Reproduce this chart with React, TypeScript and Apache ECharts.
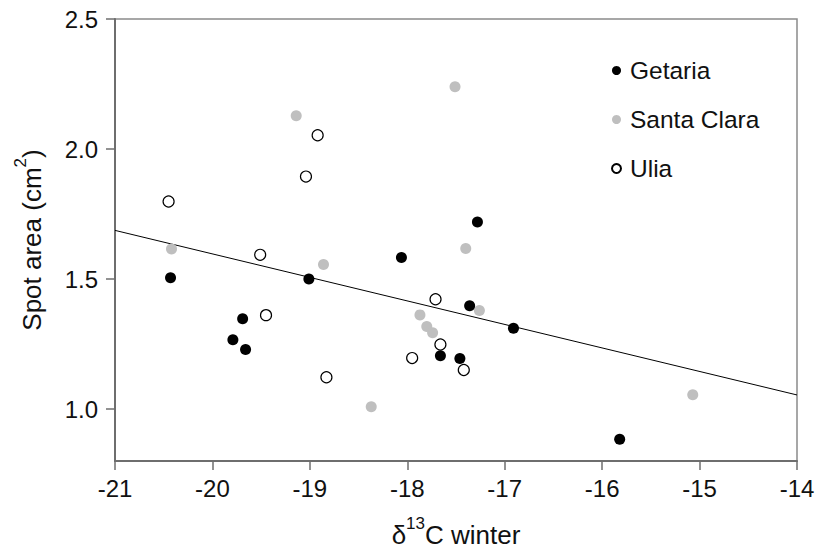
import React, { useEffect, useRef } from "react";
import * as echarts from "echarts";

const getariaX = [-20.43, -19.01, -19.69, -19.79, -19.66, -18.06, -17.28, -17.36, -16.91, -17.66, -17.46, -15.82];
const getariaY = [1.505, 1.5, 1.347, 1.266, 1.229, 1.583, 1.719, 1.397, 1.311, 1.205, 1.194, 0.884];

const santaClaraX = [-19.14, -20.42, -18.86, -17.51, -17.4, -18.37, -17.87, -17.8, -17.74, -17.26, -15.07];
const santaClaraY = [2.128, 1.615, 1.556, 2.239, 1.617, 1.009, 1.362, 1.317, 1.293, 1.379, 1.055];

const uliaX = [-18.92, -19.04, -20.45, -19.51, -19.45, -18.83, -17.95, -17.71, -17.66, -17.42];
const uliaY = [2.053, 1.894, 1.798, 1.593, 1.361, 1.122, 1.196, 1.422, 1.248, 1.15];

const fitX = [-21, -14];
const fitY = [1.687, 1.054];

const yTicks = [1.0, 1.5, 2.0, 2.5];
const seriesNames = ["Getaria", "Santa Clara", "Ulia"];

const FONT = "'Liberation Sans', Arial, Helvetica, sans-serif";

function zip(xs: number[], ys: number[]) {
  return xs.map((x, i) => [x, ys[i]]);
}

export default function App() {
  const ref = useRef<HTMLDivElement>(null);
  useEffect(() => {
    if (!ref.current) return;
    const chart = echarts.init(ref.current, null, { renderer: "svg" });
    const axisColor = "#6e6e6e";
    const titleRich = {
      m: { fontSize: 26, fontFamily: FONT, color: "#111", lineHeight: 33, verticalAlign: "bottom" },
      sup: { fontSize: 17, fontFamily: FONT, color: "#111", lineHeight: 17, verticalAlign: "top" },
    };
    chart.setOption({
      animation: false,
      backgroundColor: "#ffffff",
      textStyle: { fontFamily: FONT },
      grid: {
        left: 115,
        right: 19,
        top: 19,
        bottom: 90,
        containLabel: false,
        outerBoundsMode: "none",
        show: true,
        borderColor: "#8a8a8a",
        borderWidth: 1.5,
        backgroundColor: "transparent",
      },
      legend: {
        orient: "vertical",
        left: 606,
        top: 53,
        data: seriesNames,
        itemWidth: 9,
        itemHeight: 9,
        itemGap: 24,
        textStyle: { fontSize: 24.5, color: "#111", fontFamily: FONT, padding: [0, 0, 0, 4] },
      },
      xAxis: {
        type: "value",
        min: -21,
        max: -14,
        interval: 1,
        splitLine: { show: false },
        axisLine: { show: true, onZero: false, lineStyle: { color: axisColor, width: 2 } },
        axisTick: { show: true, length: 9, lineStyle: { color: axisColor, width: 1.5 } },
        axisLabel: { fontSize: 24, color: "#111", margin: 15, fontFamily: FONT },
        name: "{m|δ}{sup|13}{m|C winter}",
        nameLocation: "middle",
        nameGap: 54,
        nameTextStyle: { fontFamily: FONT, color: "#111", rich: titleRich },
      },
      yAxis: {
        type: "value",
        min: 0.8,
        max: 2.5,
        splitLine: { show: false },
        axisLine: { show: true, onZero: false, lineStyle: { color: axisColor, width: 2 } },
        axisTick: { show: true, length: 9, customValues: yTicks, lineStyle: { color: axisColor, width: 1.5 } },
        axisLabel: {
          fontSize: 24,
          color: "#111",
          margin: 17,
          fontFamily: FONT,
          customValues: yTicks,
          formatter: (v: number) => v.toFixed(1),
        },
        name: "{m|Spot area (cm}{sup|2}{m|)}",
        nameLocation: "middle",
        nameGap: 70,
        nameRotate: 90,
        nameTextStyle: { fontFamily: FONT, color: "#111", rich: titleRich },
      },
      series: [
        {
          name: "fit",
          type: "line",
          data: zip(fitX, fitY),
          showSymbol: false,
          symbol: "none",
          lineStyle: { color: "#000", width: 1 },
          z: 1,
          silent: true,
        },
        {
          name: "Getaria",
          type: "scatter",
          data: zip(getariaX, getariaY),
          symbol: "circle",
          symbolSize: 11,
          itemStyle: { color: "#000000", opacity: 1 },
          z: 3,
        },
        {
          name: "Santa Clara",
          type: "scatter",
          data: zip(santaClaraX, santaClaraY),
          symbol: "circle",
          symbolSize: 11,
          itemStyle: { color: "#bfbfbf", opacity: 1 },
          z: 2,
        },
        {
          name: "Ulia",
          type: "scatter",
          data: zip(uliaX, uliaY),
          symbol: "circle",
          symbolSize: 11,
          itemStyle: { color: "#ffffff", borderColor: "#000000", borderWidth: 1.2, opacity: 1 },
          z: 4,
        },
      ],
    });
    return () => chart.dispose();
  }, []);
  return (
    <div
      ref={ref}
      style={{ position: "fixed", left: 0, top: 0, width: 816, height: 551, background: "#fff" }}
    />
  );
}
